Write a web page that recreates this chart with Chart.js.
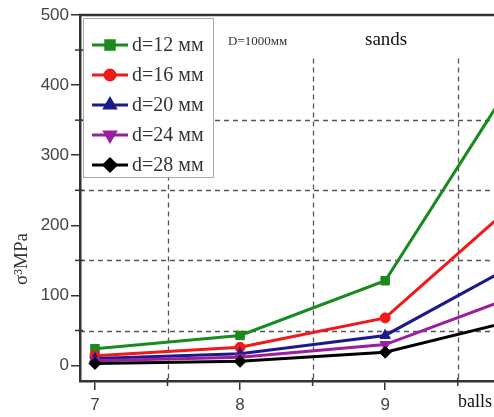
<!DOCTYPE html>
<html><head><meta charset="utf-8">
<script src="https://cdn.jsdelivr.net/npm/chart.js@4.4.1/dist/chart.umd.min.js"></script>
<style>html,body{margin:0;padding:0;background:#fff;overflow:hidden;}#wrap{width:494px;height:417px;}</style>
</head><body><div id="wrap"><canvas id="c"></canvas></div>
<script>
const xValues = [7, 8, 9, 10];
const labels = ['d=12 мм', 'd=16 мм', 'd=20 мм', 'd=24 мм', 'd=28 мм'];
const d12 = [24, 43, 121, 445];
const d16 = [14, 26, 68, 251];
const d20 = [10, 17, 43, 156];
const d24 = [7, 12, 30, 107];
const d28 = [3, 6, 19, 70];
const yTickLabels = [0, 100, 200, 300, 400, 500];
const yMinorTicks = [0, 50, 100, 150, 200, 250, 300, 350, 400, 450, 500];
const xTickLabels = [7, 8, 9];
const xMinorTicks = [7, 7.5, 8, 8.5, 9, 9.5];
const yGridValues = [50, 150, 250, 350];
const xGridValues = [7.5, 8.5, 9.5];

const colors = ['#1a8a1e', '#f01818', '#1a1a8c', '#9a1e9e', '#000000'];
const styles = ['rect', 'circle', 'triangle', 'triangle', 'rectRot'];
const rotations = [0, 0, 0, 180, 0];
const radii = [6, 5, 6, 6, 6];
const series = [d12, d16, d20, d24, d28];

const datasets = series.map((s, i) => ({
  label: labels[i],
  data: s.map((v, j) => ({x: xValues[j], y: v})),
  borderColor: colors[i],
  backgroundColor: colors[i],
  borderWidth: 3,
  pointStyle: styles[i],
  pointRotation: rotations[i],
  pointRadius: radii[i],
  pointBorderWidth: 1,
  order: 4 - i,
  tension: 0
}));

const extras = {
  id: 'extras',
  beforeDatasetsDraw(chart) {
    const {ctx, chartArea: a, scales: {x, y}} = chart;
    ctx.save();
    ctx.strokeStyle = '#555';
    ctx.lineWidth = 1.3;
    ctx.setLineDash([5, 4]);
    yGridValues.forEach(v => {
      const py = Math.round(y.getPixelForValue(v)) + 0.5;
      ctx.beginPath(); ctx.moveTo(a.left, py); ctx.lineTo(a.right, py); ctx.stroke();
    });
    const topV = y.getPixelForValue(438);
    xGridValues.forEach(v => {
      const px = Math.round(x.getPixelForValue(v)) + 0.5;
      ctx.beginPath(); ctx.moveTo(px, topV); ctx.lineTo(px, a.bottom); ctx.stroke();
    });
    ctx.restore();
  },
  afterDraw(chart) {
    const {ctx, chartArea: a, scales: {x, y}} = chart;
    ctx.save();
    ctx.strokeStyle = '#333';
    ctx.lineWidth = 2.5;
    ctx.beginPath(); ctx.moveTo(a.left - 1, a.top); ctx.lineTo(a.right, a.top); ctx.stroke();
    ctx.lineWidth = 1.5;
    yMinorTicks.forEach(v => {
      if (yTickLabels.includes(v)) return;
      const py = y.getPixelForValue(v);
      ctx.beginPath(); ctx.moveTo(a.left - 5, py); ctx.lineTo(a.left + 3, py); ctx.stroke();
    });
    xMinorTicks.forEach(v => {
      if (xTickLabels.includes(v)) return;
      const px = x.getPixelForValue(v);
      ctx.beginPath(); ctx.moveTo(px, a.bottom - 3); ctx.lineTo(px, a.bottom + 5); ctx.stroke();
    });
    const bx = 83, by = 18, bw = 130, bh = 159;
    ctx.fillStyle = '#fff';
    ctx.fillRect(bx, by, bw, bh);
    ctx.strokeStyle = '#aaa';
    ctx.lineWidth = 1;
    ctx.strokeRect(bx + 0.5, by + 0.5, bw, bh);
    chart.data.datasets.forEach((ds, i) => {
      const ly = 45 + 30 * i;
      ctx.strokeStyle = ds.borderColor;
      ctx.lineWidth = 3;
      ctx.beginPath(); ctx.moveTo(92, ly); ctx.lineTo(128, ly); ctx.stroke();
      ctx.fillStyle = ds.backgroundColor;
      Chart.helpers.drawPoint(ctx, {pointStyle: ds.pointStyle, radius: ds.pointRadius, rotation: ds.pointRotation, borderWidth: 1}, 110, ly);
      ctx.fill();
      ctx.fillStyle = '#333';
      ctx.font = '20px "Liberation Serif", serif';
      ctx.textAlign = 'left';
      ctx.textBaseline = 'middle';
      ctx.fillText(ds.label, 132, ly + 1);
    });
    ctx.fillStyle = '#333';
    ctx.textBaseline = 'middle';
    ctx.font = '13px "Liberation Serif", serif';
    ctx.fillText('D=1000мм', 228, 42);
    ctx.fillStyle = '#111';
    ctx.font = '19px "Liberation Serif", serif';
    ctx.fillText('sands', 365, 40);
    ctx.font = '18px "Liberation Serif", serif';
    ctx.fillText('balls', 458, 402);
    ctx.save();
    ctx.translate(22, 259);
    ctx.rotate(-Math.PI / 2);
    ctx.textAlign = 'center';
    ctx.fillStyle = '#333';
    ctx.font = '19px "Liberation Serif", serif';
    ctx.fillText('σ³MPa', 0, 0);
    ctx.restore();
    ctx.restore();
  }
};

new Chart(document.getElementById('c'), {
  type: 'line',
  data: {datasets},
  options: {
    responsive: true,
    maintainAspectRatio: false,
    animation: false,
    layout: {autoPadding: false, padding: {top: 15, right: 0, left: 0, bottom: 0}},
    plugins: {legend: {display: false}, tooltip: {enabled: false}},
    scales: {
      x: {
        type: 'linear', min: 6.897, max: 9.75,
        afterBuildTicks: s => { s.ticks = xTickLabels.map(v => ({value: v})); },
        afterFit: s => { s.height = 36; s.paddingRight = 0; s.paddingLeft = 0; },
        grid: {drawOnChartArea: false, drawTicks: true, tickLength: 9, color: '#333', lineWidth: 1.5},
        border: {display: true, color: '#333', width: 2.5},
        ticks: {color: '#444', font: {family: '"Liberation Sans", Arial, sans-serif', size: 17}, padding: 5, maxRotation: 0}
      },
      y: {
        type: 'linear', min: -22, max: 500,
        afterBuildTicks: s => { s.ticks = yTickLabels.map(v => ({value: v})); },
        afterFit: s => { s.width = 80; s.paddingTop = 0; s.paddingBottom = 0; },
        grid: {drawOnChartArea: false, drawTicks: true, tickLength: 9, color: '#333', lineWidth: 1.5},
        border: {display: true, color: '#333', width: 2.5},
        ticks: {color: '#444', font: {family: '"Liberation Sans", Arial, sans-serif', size: 17}, padding: 2}
      }
    }
  },
  plugins: [extras]
});
</script>
</body></html>
